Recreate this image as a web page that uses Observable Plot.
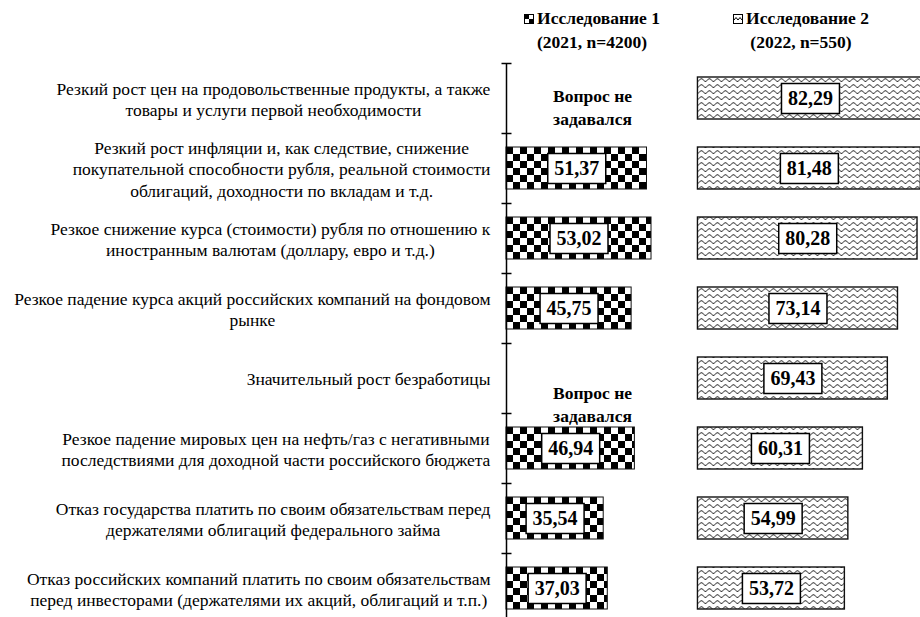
<!DOCTYPE html>
<html><head><meta charset="utf-8">
<script src="https://cdn.jsdelivr.net/npm/d3@7"></script>
<script src="https://cdn.jsdelivr.net/npm/@observablehq/plot@0.6"></script>
<style>
html,body{margin:0;padding:0;background:#fff;overflow:hidden;}
#wrap{position:relative;width:920px;font-family:"Liberation Serif","DejaVu Serif",serif;color:#000;}
#legend{position:relative;height:58px;}
.lg{position:absolute;top:6px;width:220px;text-align:center;font-weight:bold;font-size:17.5px;line-height:24px;}
.lg svg{vertical-align:0px;margin-right:3px;}
</style></head><body>
<div id="wrap"><div id="legend"></div><div id="chart"></div></div>
<script>
// ---- data ----
const categories = [
  "Резкий рост цен на продовольственные продукты, а также\nтовары и услуги первой необходимости",
  "Резкий рост инфляции и, как следствие, снижение\nпокупательной способности рубля, реальной стоимости\nоблигаций, доходности по вкладам и т.д.",
  "Резкое снижение курса (стоимости) рубля по отношению к\nиностранным валютам (доллару, евро и т.д.)",
  "Резкое падение курса акций российских компаний на фондовом\nрынке",
  "Значительный рост безработицы",
  "Резкое падение мировых цен на нефть/газ с негативными\nпоследствиями для доходной части российского бюджета",
  "Отказ государства платить по своим обязательствам перед\nдержателями облигаций федерального займа",
  "Отказ российских компаний платить по своим обязательствам\nперед инвесторами (держателями их акций, облигаций и т.п.)"
];
const study1 = [null, 51.37, 53.02, 45.75, null, 46.94, 35.54, 37.03];
const study2 = [82.29, 81.48, 80.28, 73.14, 69.43, 60.31, 54.99, 53.72];
const seriesNames = ["Исследование 1", "Исследование 2"];
const seriesNotes = ["(2021, n=4200)", "(2022, n=550)"];
const notAskedText = "Вопрос не\nзадавался";

// ---- layout ----
const W = 920;
const ORIGIN = 506;          // px of the axis
const K = 2.735;             // px per percentage point
const OFFSET = 70;           // units between the two panels' origins
const PANEL_CENTERS = [592, 801]; // px centers of the headers
const NOTE_DY = [8, 25];
const LABEL_GAP = 16;
const STEP = 70, MT = 5, MB = 10;
const H = MT + MB + STEP * categories.length;

const fmt = v => v.toFixed(2).replace(".", ",");
const rows = categories.map((c, i) => ({cat: c, s1: study1[i], s2: study2[i]}));
const r1 = rows.filter(d => d.s1 != null);
const na = rows.filter(d => d.s1 == null);

// ---- legend (HTML, above the SVG) ----
const icons = [
  `<svg width="10" height="10"><rect x="0.5" y="0.5" width="9" height="9" fill="#000" stroke="#000"/><rect x="5" y="1" width="4" height="4" fill="#fff"/><rect x="1" y="5" width="4" height="4" fill="#fff"/></svg>`,
  `<svg width="10" height="10"><rect x="0.5" y="0.5" width="9" height="9" fill="#fff" stroke="#000"/><path d="M1,6 L3,3.5 L5,6 L7,3.5 L9,6" fill="none" stroke="#000" stroke-width="1"/></svg>`
];
const legend = document.getElementById("legend");
seriesNames.forEach((n, i) => {
  const div = document.createElement("div");
  div.className = "lg";
  div.style.left = (PANEL_CENTERS[i] - 110) + "px";
  div.innerHTML = icons[i] + n + "<br>" + seriesNotes[i];
  legend.appendChild(div);
});

// ---- symbols ----
const boxSymbol = {draw(ctx) { ctx.moveTo(-29, -15); ctx.lineTo(29, -15); ctx.lineTo(29, 15); ctx.lineTo(-29, 15); ctx.closePath(); }};
const tickSymbol = {draw(ctx) { ctx.moveTo(-5, 0); ctx.lineTo(5, 0); }};

// ---- pattern defs mark ----
function defs(index, scales, values, dims, context) {
  const x0 = scales.x(0);
  const y0 = scales.y(categories[0]);
  const x2 = scales.x(OFFSET);
  const el = context.document.createElementNS("http://www.w3.org/2000/svg", "defs");
  el.innerHTML =
    `<pattern id="chk" patternUnits="userSpaceOnUse" x="${x0}" y="${y0}" width="14" height="14">
       <rect width="14" height="14" fill="#fff"/>
       <rect width="7" height="7" fill="#000"/>
       <rect x="7" y="7" width="7" height="7" fill="#000"/>
     </pattern>
     <pattern id="wav" patternUnits="userSpaceOnUse" x="${x2}" y="${y0}" width="8" height="6">
       <rect width="8" height="6" fill="#fff"/>
       <path d="M0,4.6 C1.4,4.6 2.4,1.6 4,1.6 C5.6,1.6 6.6,4.6 8,4.6" fill="none" stroke="#222" stroke-width="1"/>
     </pattern>`;
  return el;
}

const FONT = "Liberation Serif, DejaVu Serif, serif";
const chart = Plot.plot({
  width: W,
  height: H,
  marginLeft: ORIGIN,
  marginRight: 0,
  marginTop: MT,
  marginBottom: MB,
  style: {fontFamily: FONT, background: "white", overflow: "visible"},
  x: {domain: [0, (W - ORIGIN) / K], axis: null},
  y: {domain: categories, axis: null, paddingInner: 0.4, paddingOuter: 0.2},
  marks: [
    defs,
    Plot.barX(r1, {x1: () => 0, x2: "s1", y: "cat", fill: "url(#chk)", stroke: "#111", strokeWidth: 1}),
    Plot.barX(rows, {x1: () => OFFSET, x2: d => OFFSET + d.s2, y: "cat", fill: "url(#wav)", stroke: "#111", strokeWidth: 1.4}),
    Plot.dot(r1, {x: d => d.s1 / 2, y: "cat", symbol: boxSymbol, fill: "white", stroke: "black", strokeWidth: 1.5}),
    Plot.text(r1, {x: d => d.s1 / 2, y: "cat", text: d => fmt(d.s1), fontWeight: "bold", fontSize: 20, fontFamily: FONT, fill: "black"}),
    Plot.dot(rows, {x: d => OFFSET + d.s2 / 2, y: "cat", symbol: boxSymbol, fill: "white", stroke: "black", strokeWidth: 1.5}),
    Plot.text(rows, {x: d => OFFSET + d.s2 / 2, y: "cat", text: d => fmt(d.s2), fontWeight: "bold", fontSize: 20, fontFamily: FONT, fill: "black"}),
    na.map((d, i) => Plot.text([d], {x: () => (PANEL_CENTERS[0] - ORIGIN) / K, y: "cat", text: () => notAskedText, dy: NOTE_DY[i], fontWeight: "bold", fontSize: 17.5, lineHeight: 1.3, fontFamily: FONT, fill: "black"})),
    Plot.ruleX([0], {stroke: "#000", strokeWidth: 1.5}),
    Plot.dot(categories, {x: () => 0, y: d => d, dy: -STEP / 2, symbol: tickSymbol, fill: "none", stroke: "#000", strokeWidth: 1.5}),
    Plot.dot(categories.slice(-1), {x: () => 0, y: d => d, dy: STEP / 2, symbol: tickSymbol, fill: "none", stroke: "#000", strokeWidth: 1.5}),
    Plot.text(categories, {x: () => 0, y: d => d, text: d => d, textAnchor: "middle", fontSize: 17.5, lineHeight: 1.24, fontFamily: FONT, fill: "black", ariaLabel: () => "category-label"})
  ]
});
document.getElementById("chart").appendChild(chart);

// right-align each label block while centring its lines within the block
let labels = Array.from(chart.querySelectorAll('text[aria-label="category-label"]'));
if (!labels.length) {
  const g = chart.querySelector('[aria-label="category-label"]');
  if (g) labels = Array.from(g.querySelectorAll("text"));
}
for (const t of labels) {
  const bb = t.getBBox();
  const shift = LABEL_GAP + bb.width / 2;
  t.setAttribute("transform", `translate(${-shift},0) ` + (t.getAttribute("transform") || ""));
}
</script>
</body></html>
